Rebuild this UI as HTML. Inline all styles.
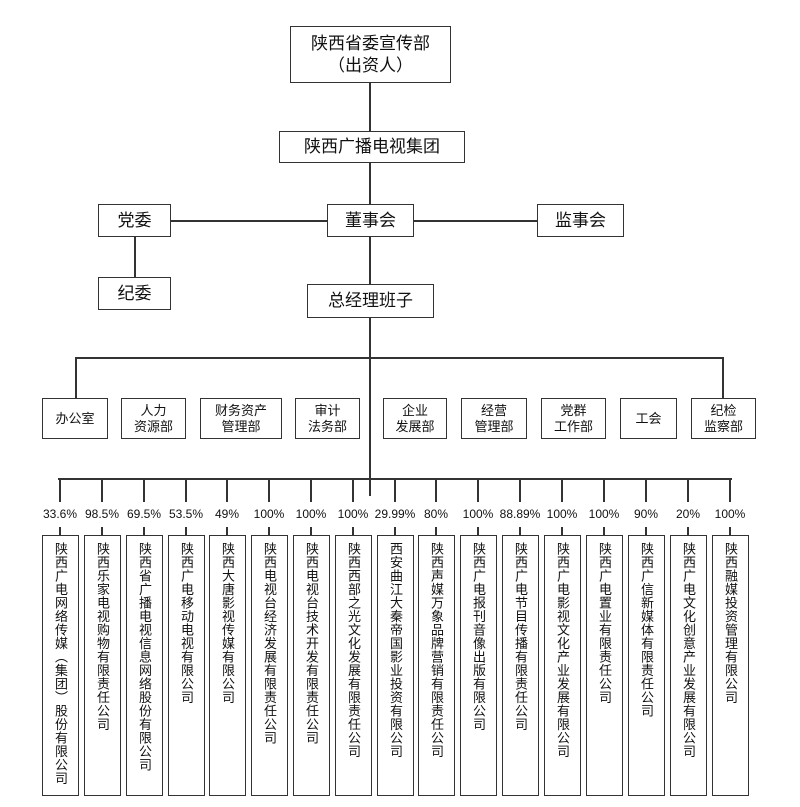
<!DOCTYPE html>
<html><head><meta charset="utf-8"><style>
body{margin:0;background:#fff;width:800px;height:807px;position:relative;overflow:hidden;font-family:"Liberation Sans","Noto Sans CJK SC",sans-serif;color:#111}
.b{position:absolute;border:1.5px solid #333;box-sizing:border-box;display:flex;align-items:center;justify-content:center;text-align:center;background:#fff}
.l{position:absolute;background:#333}
.t{font-size:17px;line-height:22px}
.d{font-size:13px;line-height:16px}
.v{position:absolute;border:1.5px solid #333;box-sizing:border-box;top:535px;height:261px;width:37px;display:flex;justify-content:center;padding-top:6px;font-size:13px;line-height:15px}
.v span{writing-mode:vertical-rl;text-orientation:upright;letter-spacing:0.5px}
.p{position:absolute;top:507px;font-size:12px;width:50px;text-align:center;margin-left:-25px}
</style></head><body>
<div class="b t" style="left:290px;top:26px;width:161px;height:57px">陕西省委宣传部<br>（出资人）</div>
<div class="l" style="left:369px;top:83px;width:1.5px;height:48px"></div>
<div class="b t" style="left:279px;top:131px;width:186px;height:32px">陕西广播电视集团</div>
<div class="l" style="left:369px;top:163px;width:1.5px;height:41px"></div>
<div class="b t" style="left:98px;top:204px;width:73px;height:33px">党委</div>
<div class="b t" style="left:327px;top:204px;width:87px;height:33px">董事会</div>
<div class="b t" style="left:537px;top:204px;width:87px;height:33px">监事会</div>
<div class="l" style="left:171px;top:220px;width:156px;height:1.5px"></div>
<div class="l" style="left:414px;top:220px;width:123px;height:1.5px"></div>
<div class="l" style="left:134px;top:237px;width:1.5px;height:41px"></div>
<div class="b t" style="left:98px;top:277px;width:73px;height:33px">纪委</div>
<div class="l" style="left:369px;top:237px;width:1.5px;height:48px"></div>
<div class="b t" style="left:307px;top:284px;width:127px;height:34px">总经理班子</div>
<div class="l" style="left:369px;top:318px;width:1.5px;height:178px"></div>
<div class="l" style="left:75px;top:357px;width:648px;height:1.5px"></div>
<div class="l" style="left:75px;top:357px;width:1.5px;height:41px"></div>
<div class="l" style="left:722px;top:357px;width:1.5px;height:41px"></div>
<div class="b d" style="left:42px;top:398px;width:66px;height:41px">办公室</div>
<div class="b d" style="left:121px;top:398px;width:65px;height:41px">人力<br>资源部</div>
<div class="b d" style="left:200px;top:398px;width:82px;height:41px">财务资产<br>管理部</div>
<div class="b d" style="left:295px;top:398px;width:65px;height:41px">审计<br>法务部</div>
<div class="b d" style="left:383px;top:398px;width:64px;height:41px">企业<br>发展部</div>
<div class="b d" style="left:461px;top:398px;width:66px;height:41px">经营<br>管理部</div>
<div class="b d" style="left:541px;top:398px;width:65px;height:41px">党群<br>工作部</div>
<div class="b d" style="left:620px;top:398px;width:57px;height:41px">工会</div>
<div class="b d" style="left:691px;top:398px;width:65px;height:41px">纪检<br>监察部</div>
<div class="l" style="left:58px;top:478px;width:674px;height:1.5px"></div>
<div id="c"></div>
<script>
var cs=[60,102,144,186,227,269,311,353,395,436,478,520,562,604,646,688,730];
var pc=["33.6%","98.5%","69.5%","53.5%","49%","100%","100%","100%","29.99%","80%","100%","88.89%","100%","100%","90%","20%","100%"];
var nm=["陕西广电网络传媒（集团）股份有限公司","陕西乐家电视购物有限责任公司","陕西省广播电视信息网络股份有限公司","陕西广电移动电视有限公司","陕西大唐影视传媒有限公司","陕西电视台经济发展有限责任公司","陕西电视台技术开发有限责任公司","陕西西部之光文化发展有限责任公司","西安曲江大秦帝国影业投资有限公司","陕西声媒万象品牌营销有限责任公司","陕西广电报刊音像出版有限公司","陕西广电节目传播有限责任公司","陕西广电影视文化产业发展有限公司","陕西广电置业有限责任公司","陕西广信新媒体有限责任公司","陕西广电文化创意产业发展有限公司","陕西融媒投资管理有限公司"];
var h="";
for(var i=0;i<17;i++){var x=cs[i];
h+='<div class="l" style="left:'+(x-1)+'px;top:478px;width:1.5px;height:24px"></div>';
h+='<div class="p" style="left:'+x+'px">'+pc[i]+'</div>';
h+='<div class="l" style="left:'+(x-1)+'px;top:527px;width:1.5px;height:8px"></div>';
h+='<div class="v" style="left:'+(x-18)+'px"><span>'+nm[i]+'</span></div>';}
document.getElementById("c").innerHTML=h;
</script>
</body></html>
